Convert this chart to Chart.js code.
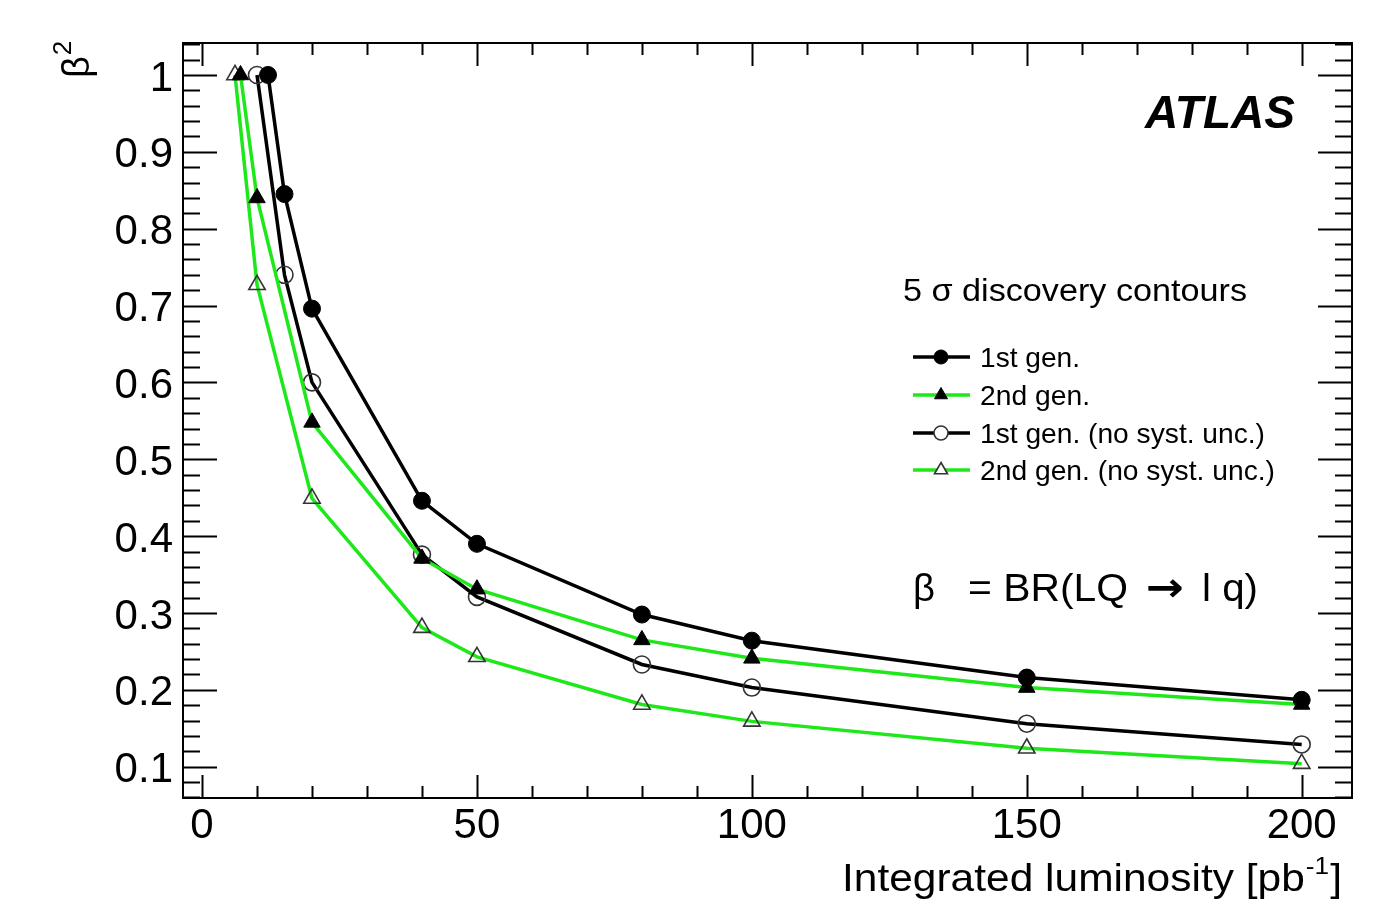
<!DOCTYPE html>
<html>
<head>
<meta charset="utf-8">
<script src="https://cdn.jsdelivr.net/npm/chart.js@4.4.1/dist/chart.umd.min.js"></script>
<style>
  html, body { margin: 0; padding: 0; background: #fff; }
  canvas { display: block; }
</style>
</head>
<body>
<canvas id="chart" width="1373" height="910"></canvas>
<script>
// integrated luminosity (pb^-1) and beta^2 for each 5 sigma contour
var lumiGen1 = [12, 15, 20, 40, 50, 80, 100, 150, 200];
var beta2Gen1 = [1.0, 0.845, 0.696, 0.446, 0.39, 0.298, 0.264, 0.216, 0.187];

var lumiGen2 = [7, 10, 20, 40, 50, 80, 100, 150, 200];
var beta2Gen2 = [1.0, 0.84, 0.548, 0.371, 0.331, 0.265, 0.241, 0.203, 0.181];

var lumiGen1NoSyst = [10, 15, 20, 40, 50, 80, 100, 150, 200];
var beta2Gen1NoSyst = [1.0, 0.74, 0.6, 0.376, 0.321, 0.233, 0.203, 0.156, 0.129];

var lumiGen2NoSyst = [6, 10, 20, 40, 50, 80, 100, 150, 200];
var beta2Gen2NoSyst = [1.0, 0.727, 0.449, 0.281, 0.243, 0.181, 0.159, 0.124, 0.104];

var seriesLabels = ['1st gen.', '2nd gen.', '1st gen. (no syst. unc.)', '2nd gen. (no syst. unc.)'];
var xTicks = [0, 50, 100, 150, 200];
var yTicks = [0.1, 0.2, 0.3, 0.4, 0.5, 0.6, 0.7, 0.8, 0.9, 1];

var FONT = '"Liberation Sans", Arial, Helvetica, sans-serif';
var GREEN = '#1ee81a';

function pts(xs, ys) {
    return xs.map(function (x, i) { return { x: x, y: ys[i] }; });
}

// draw text squeezed/stretched to a given width (the original canvas was stretched)
function fitText(ctx, text, x, y, font, width) {
    ctx.save();
    ctx.font = font;
    var w = ctx.measureText(text).width;
    ctx.translate(x, y);
    ctx.scale(width / w, 1);
    ctx.textAlign = 'left';
    ctx.fillText(text, 0, 0);
    ctx.restore();
}

// frame with inward ticks on all four sides, ROOT style
var frameTicks = {
    id: 'frameTicks',
    afterDatasetsDraw: function (chart) {
        var ctx = chart.ctx, a = chart.chartArea;
        var xs = chart.scales.x, ys = chart.scales.y;
        ctx.save();
        ctx.strokeStyle = '#000';
        ctx.lineWidth = 2;
        ctx.beginPath();
        for (var v = 0; v <= xs.max; v += 10) {
            var px = Math.round(xs.getPixelForValue(v)) + 0.5;
            var len = (v % 50 === 0) ? 23 : 12;
            ctx.moveTo(px, a.bottom); ctx.lineTo(px, a.bottom - len);
            ctx.moveTo(px, a.top); ctx.lineTo(px, a.top + len);
        }
        for (var k = 3; k * 0.02 <= ys.max; k++) {
            var val = k * 0.02;
            if (val < ys.min) continue;
            var py = Math.round(ys.getPixelForValue(val)) + 0.5;
            var l2 = (k % 5 === 0) ? 34 : 17;
            ctx.moveTo(a.left, py); ctx.lineTo(a.left + l2, py);
            ctx.moveTo(a.right, py); ctx.lineTo(a.right - l2, py);
        }
        ctx.stroke();
        ctx.strokeRect(a.left, a.top, a.right - a.left, a.bottom - a.top);
        ctx.restore();
    }
};

function legendMarker(ctx, ds, x, y) {
    var r = ds.pointStyle === 'triangle' ? 7.5 : 7;
    ctx.beginPath();
    if (ds.pointStyle === 'triangle') {
        ctx.moveTo(x, y - r);
        ctx.lineTo(x + r * 0.866, y + r / 2);
        ctx.lineTo(x - r * 0.866, y + r / 2);
        ctx.closePath();
    } else {
        ctx.arc(x, y, r, 0, Math.PI * 2);
    }
    ctx.fillStyle = ds.pointBackgroundColor === 'transparent' ? '#fff' : ds.pointBackgroundColor;
    ctx.fill();
    ctx.strokeStyle = ds.pointBorderColor;
    ctx.lineWidth = ds.pointBorderWidth;
    ctx.stroke();
}

var annotations = {
    id: 'annotations',
    afterDraw: function (chart) {
        var ctx = chart.ctx;
        ctx.save();
        ctx.fillStyle = '#000';
        ctx.textBaseline = 'alphabetic';

        // ATLAS label
        fitText(ctx, 'ATLAS', 1145, 128, 'italic bold 46px ' + FONT, 150);

        // legend header and entries
        fitText(ctx, '5 \u03c3 discovery contours', 903, 301, '31px ' + FONT, 344);
        var rowsY = [357, 395, 433, 470];
        var rowsW = [100, 110, 285, 295];
        chart.data.datasets.forEach(function (ds, i) {
            var y = rowsY[i];
            ctx.strokeStyle = ds.borderColor;
            ctx.lineWidth = 3.5;
            ctx.beginPath();
            ctx.moveTo(913, y); ctx.lineTo(970, y);
            ctx.stroke();
            legendMarker(ctx, ds, 941, y);
            ctx.fillStyle = '#000';
            fitText(ctx, ds.label, 980, y + 10, '28px ' + FONT, rowsW[i]);
        });

        // definition of beta
        fitText(ctx, '\u03b2', 913, 601, '39px ' + FONT, 22);
        fitText(ctx, '= BR(LQ', 968, 601, '39px ' + FONT, 160);
        fitText(ctx, '\u2192', 1146, 601, 'bold 40px "DejaVu Sans", ' + FONT, 38);
        fitText(ctx, 'l q)', 1202, 601, '39px ' + FONT, 56);

        // x axis title with superscript, right aligned to the frame
        var mainFont = '39px ' + FONT, supFont = '24px ' + FONT;
        ctx.font = mainFont;
        var t1 = 'Integrated luminosity [pb', t3 = ']';
        var w1 = ctx.measureText(t1).width, w3 = ctx.measureText(t3).width;
        ctx.font = supFont;
        var w2 = ctx.measureText('-1').width;
        var total = w1 + w2 + w3 + 2;
        var s = 500 / total;
        ctx.translate(1342 - 500, 891);
        ctx.scale(s, 1);
        ctx.textAlign = 'left';
        ctx.font = mainFont;
        ctx.fillText(t1, 0, 0);
        ctx.font = supFont;
        ctx.fillText('-1', w1 + 1, -17);
        ctx.font = mainFont;
        ctx.fillText(t3, w1 + w2 + 2, 0);
        ctx.setTransform(1, 0, 0, 1, 0, 0);

        // y axis title, rotated, at the top end
        ctx.translate(89, 78);
        ctx.rotate(-Math.PI / 2);
        ctx.font = '38px ' + FONT;
        ctx.fillText('\u03b2', 0, 0);
        var wb = ctx.measureText('\u03b2').width;
        ctx.font = '26px ' + FONT;
        ctx.fillText('2', wb + 1, -18);
        ctx.restore();
    }
};

var ctx = document.getElementById('chart').getContext('2d');

new Chart(ctx, {
    type: 'line',
    data: {
        datasets: [
            {
                label: seriesLabels[0],
                data: pts(lumiGen1, beta2Gen1),
                borderColor: '#000',
                borderWidth: 3.5,
                pointStyle: 'circle',
                pointRadius: 8.5,
                pointBackgroundColor: '#000',
                pointBorderColor: '#000',
                pointBorderWidth: 1
            },
            {
                label: seriesLabels[1],
                data: pts(lumiGen2, beta2Gen2),
                borderColor: GREEN,
                borderWidth: 3.5,
                pointStyle: 'triangle',
                pointRadius: 9.5,
                pointBackgroundColor: '#000',
                pointBorderColor: '#000',
                pointBorderWidth: 1
            },
            {
                label: seriesLabels[2],
                data: pts(lumiGen1NoSyst, beta2Gen1NoSyst),
                borderColor: '#000',
                borderWidth: 3.5,
                pointStyle: 'circle',
                pointRadius: 8.5,
                pointBackgroundColor: 'transparent',
                pointBorderColor: '#333',
                pointBorderWidth: 1.6
            },
            {
                label: seriesLabels[3],
                data: pts(lumiGen2NoSyst, beta2Gen2NoSyst),
                borderColor: GREEN,
                borderWidth: 3.5,
                pointStyle: 'triangle',
                pointRadius: 9.5,
                pointBackgroundColor: 'transparent',
                pointBorderColor: '#333',
                pointBorderWidth: 1.6
            }
        ]
    },
    options: {
        responsive: false,
        devicePixelRatio: 1,
        animation: false,
        layout: { padding: { top: 43, right: 21, left: 0, bottom: 0 } },
        elements: { line: { tension: 0 } },
        plugins: {
            legend: { display: false },
            tooltip: { enabled: false }
        },
        scales: {
            x: {
                type: 'linear',
                min: -3.46,
                max: 209.15,
                grid: { display: false, drawTicks: false },
                border: { display: false },
                afterBuildTicks: function (scale) {
                    scale.ticks = xTicks.map(function (v) { return { value: v }; });
                },
                afterFit: function (scale) { scale.height = 112; },
                ticks: {
                    autoSkip: false,
                    maxRotation: 0,
                    padding: 3,
                    color: '#000',
                    font: { family: FONT, size: 42 },
                    callback: function (v) { return String(v); }
                }
            },
            y: {
                type: 'linear',
                min: 0.0593,
                max: 1.0416,
                grid: { display: false, drawTicks: false },
                border: { display: false },
                afterBuildTicks: function (scale) {
                    scale.ticks = yTicks.map(function (v) { return { value: v }; });
                },
                afterFit: function (scale) { scale.width = 183; },
                ticks: {
                    autoSkip: false,
                    padding: 10,
                    labelOffset: 4,
                    color: '#000',
                    font: { family: FONT, size: 42 },
                    callback: function (v) { return v === 1 ? '1' : v.toFixed(1); }
                }
            }
        }
    },
    plugins: [frameTicks, annotations]
});
</script>
</body>
</html>
